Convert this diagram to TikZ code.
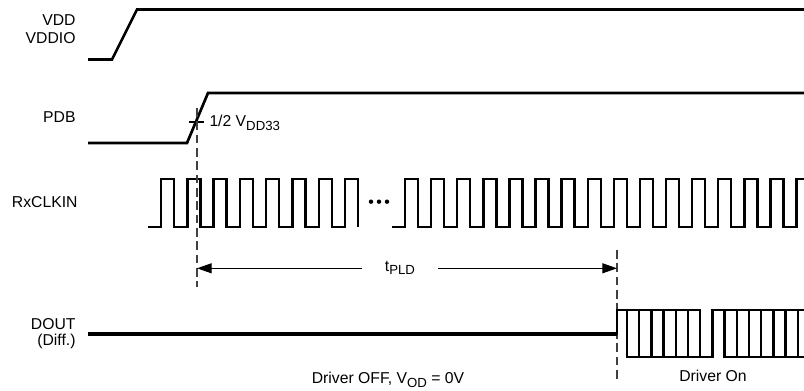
\documentclass[tikz,border=0pt]{standalone}
\usepackage{fontspec}
\setmainfont{Liberation Sans}
\usetikzlibrary{arrows.meta}
\newcommand{\lowtxt}[1]{\raisebox{-2.4pt}{\fontsize{9.9}{11}\selectfont #1}}
\tikzset{every picture/.style={line width=0.75pt},
	sigline/.style={line width=2pt},
	clkline/.style={line width=1.8pt},
	eyeline/.style={line width=1.8pt, line cap=rect},
	markline/.style={line width=0.9pt, draw=black!75, dash pattern=on 6.5pt off 3.5pt},
	dimarrow/.style={line width=0.75pt, -{Triangle[length=11pt,width=7.5pt]}},
	siglabel/.style={inner sep=0pt, font=\fontsize{11.8}{14}\selectfont}}

\begin{document}
\begin{tikzpicture}[x=0.75pt,y=0.75pt,yscale=-1,xscale=1]
		\useasboundingbox (0,0) rectangle (804,391);

		%Labels
		\node[siglabel, anchor=base east] (vdd) at (76,26) {VDD};
		\node[siglabel, anchor=base east] (vddio) at (76,44) {VDDIO};
		\node[siglabel, anchor=base east] (pdb) at (76,123) {PDB};
		\node[siglabel, anchor=base east] (rxclkin) at (78,208) {RxCLKIN};
		\node[siglabel, anchor=base east] (dout) at (76,330) {DOUT};
		\node[siglabel, anchor=base east] (diff) at (76,346) {(Diff.)};
		\node[siglabel, anchor=base west] (halfvdd) at (209,127) {1/2 V\lowtxt{DD33}};
		\node[siglabel, minimum width=56.25pt] (tpld) at (400,268.3) {t\lowtxt{PLD}};
		\node[siglabel, anchor=base] (drvoff) at (388,384) {Driver OFF, V\lowtxt{OD} = 0V};
		\node[siglabel, anchor=base] (drvon) at (713,381.7) {Driver On};

		%VDD / VDDIO
		\draw[sigline] (88,59.5) -- (112,59.5) -- (137,9.5) -- (806,9.5);
		%PDB
		\draw[sigline] (88,143) -- (187,143) -- (208,93) -- (806,93);
		\draw[line width=1.1pt] (189,122) -- (204,122);

		%RxCLKIN, first burst
		\draw[clkline] (148,227) \foreach \k in {0,...,7} { -- ({161+26.3*\k},227) -- ++(0,-48) -- ++(13,0) -- ++(0,48) };
		\foreach \x in {371,379,387} \fill (\x,201.7) circle (2.2);
		%RxCLKIN, second burst
		\draw[clkline] (392,227) \foreach \k in {0,...,14} { -- ({405+26.1*\k},227) -- ++(0,-48) -- ++(13,0) -- ++(0,48) } -- (796.5,227) -- (796.5,179) -- (806,179);

		%Markers
		\coordinate (dimA) at (197,268.3);
		\coordinate (dimB) at (617,268.3);
		\draw[markline] (197,108) -- (197,287);
		\draw[markline] (617,250) -- (617,382);
		\draw[dimarrow] (tpld) -- (dimA);
		\draw[dimarrow] (tpld) -- (dimB);

		%DOUT
		\draw[sigline, line width=2.4pt] (88,334) -- (617,334);
		\draw[eyeline] (617,334) -- (617,310) -- (700.2,310);
		\draw[eyeline] (712.4,310) -- (806,310);
		\draw[eyeline] (627,357) -- (712.4,357);
		\draw[eyeline] (724.6,357) -- (806,357);
		\foreach \i in {0,...,14} \draw[eyeline] ({627+12.2*\i},310) -- ++(0,47);

\end{tikzpicture}
\end{document}
